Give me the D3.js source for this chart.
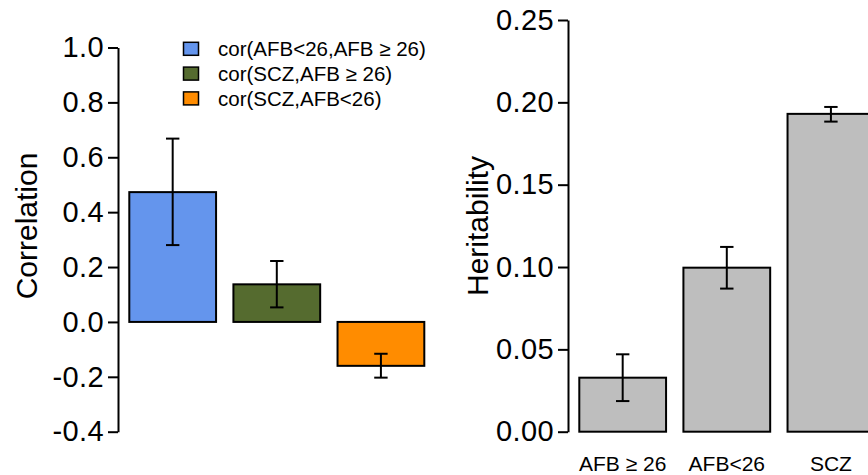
<!DOCTYPE html>
<html>
<head>
<meta charset="utf-8">
<script src="https://cdn.jsdelivr.net/npm/d3@7"></script>
<style>
  html, body { margin: 0; padding: 0; background: #fff; }
  svg { display: block; font-family: "Liberation Sans", Arial, Helvetica, sans-serif; }
</style>
</head>
<body>
<svg id="chart" width="868" height="475"></svg>
<script>
// ---- Data ----
const corrCategories = ["cor(AFB<26,AFB \u2265 26)", "cor(SCZ,AFB \u2265 26)", "cor(SCZ,AFB<26)"];
const corrValues = [0.473, 0.137, -0.160];
const corrLower  = [0.280, 0.053, -0.203];
const corrUpper  = [0.668, 0.222, -0.116];
const corrColors = ["#6495ED", "#556B2F", "#FF8C00"];
const corrTicks  = [-0.4, -0.2, 0.0, 0.2, 0.4, 0.6, 0.8, 1.0];

const herCategories = ["AFB \u2265 26", "AFB<26", "SCZ"];
const herValues = [0.0328, 0.0996, 0.193];
const herLower  = [0.0186, 0.0869, 0.1883];
const herUpper  = [0.0470, 0.1122, 0.1972];
const herTicks  = [0.00, 0.05, 0.10, 0.15, 0.20, 0.25];
const herColor  = "#BEBEBE";

// ---- Layout ----
const svg = d3.select("#chart");
const barW = 1.0, space = 0.2;
const barLeft = i => space + i * (barW + space);

function panel(opts) {
  const g = svg.append("g");
  const y = d3.scaleLinear().domain(opts.yDomain).range(opts.yRange);
  const x = d3.scaleLinear().domain([0.2, 3.6]).range(opts.xRange);

  // axis
  const ax = g.append("g")
    .attr("transform", `translate(${opts.axisX},0)`)
    .call(d3.axisLeft(y).tickValues(opts.ticks).tickSize(10).tickSizeOuter(0).tickPadding(4)
      .tickFormat(d => d.toFixed(opts.decimals)));
  ax.select(".domain").attr("stroke", "#000").attr("stroke-width", 2);
  ax.selectAll(".tick line").attr("stroke", "#000").attr("stroke-width", 2);
  ax.selectAll(".tick text").attr("fill", "#000").attr("font-size", 29)
    .attr("letter-spacing", "0.4px")
    .attr("font-family", "'Liberation Sans', Arial, sans-serif");

  // bars
  const idx = d3.range(opts.values.length);
  g.selectAll("rect.bar").data(idx).enter().append("rect")
    .attr("class", "bar")
    .attr("x", i => x(barLeft(i)))
    .attr("width", i => x(barLeft(i) + barW) - x(barLeft(i)))
    .attr("y", i => y(Math.max(0, opts.values[i])))
    .attr("height", i => Math.abs(y(opts.values[i]) - y(0)))
    .attr("fill", i => opts.colors[i])
    .attr("stroke", "#000").attr("stroke-width", 2);

  // error bars
  const cap = 6.7;
  const eb = g.selectAll("g.err").data(idx).enter().append("g").attr("class", "err")
    .attr("stroke", "#000").attr("stroke-width", 2);
  eb.append("line")
    .attr("x1", i => x(barLeft(i) + barW / 2)).attr("x2", i => x(barLeft(i) + barW / 2))
    .attr("y1", i => y(opts.lower[i])).attr("y2", i => y(opts.upper[i]));
  eb.append("line")
    .attr("x1", i => x(barLeft(i) + barW / 2) - cap).attr("x2", i => x(barLeft(i) + barW / 2) + cap)
    .attr("y1", i => y(opts.lower[i])).attr("y2", i => y(opts.lower[i]));
  eb.append("line")
    .attr("x1", i => x(barLeft(i) + barW / 2) - cap).attr("x2", i => x(barLeft(i) + barW / 2) + cap)
    .attr("y1", i => y(opts.upper[i])).attr("y2", i => y(opts.upper[i]));

  // y label
  g.append("text")
    .attr("transform", `translate(${opts.labelX},226) rotate(-90)`)
    .attr("text-anchor", "middle")
    .attr("font-size", 30)
    .text(opts.yLabel);

  return { x, y, g };
}

// Left: correlations
const left = panel({
  yDomain: [-0.4, 1.0], yRange: [431.7, 47.5],
  xRange: [129.3, 424.3], axisX: 118,
  ticks: corrTicks, decimals: 1,
  values: corrValues, lower: corrLower, upper: corrUpper,
  colors: corrColors, yLabel: "Correlation", labelX: 37
});

// Legend
const leg = svg.append("g");
const legRows = leg.selectAll("g").data(corrCategories).enter().append("g")
  .attr("transform", (d, i) => `translate(0,${48.8 + i * 24.8})`);
legRows.append("rect")
  .attr("x", 183.5).attr("y", -6.5).attr("width", 15).attr("height", 13)
  .attr("fill", (d, i) => corrColors[i]).attr("stroke", "#000").attr("stroke-width", 1.5);
legRows.append("text")
  .attr("x", 218).attr("dy", "0.36em")
  .attr("font-size", 20.5)
  .text(d => d);

// Right: heritability
const right = panel({
  yDomain: [0, 0.25], yRange: [431.7, 20],
  xRange: [579.3, 874.3], axisX: 568,
  ticks: herTicks, decimals: 2,
  values: herValues, lower: herLower, upper: herUpper,
  colors: herValues.map(() => herColor), yLabel: "Heritability", labelX: 488
});

// x category labels
svg.append("g").selectAll("text").data(herCategories).enter().append("text")
  .attr("x", (d, i) => right.x(barLeft(i) + barW / 2))
  .attr("y", 471)
  .attr("text-anchor", "middle")
  .attr("font-size", 21)
  .text(d => d);
</script>
</body>
</html>
